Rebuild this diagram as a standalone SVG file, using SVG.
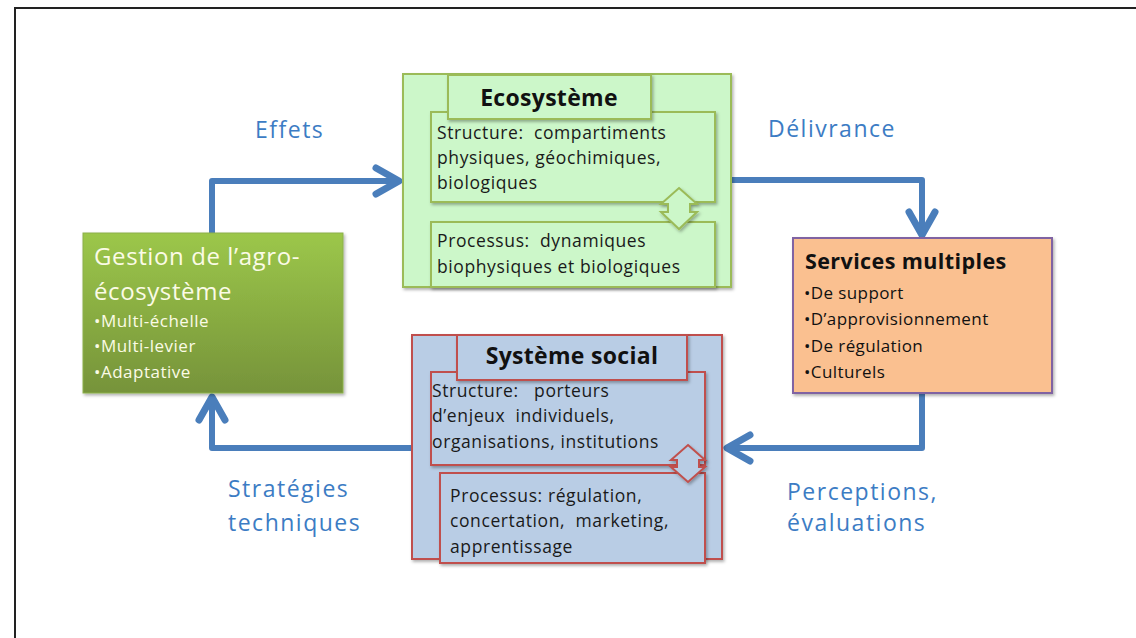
<svg xmlns="http://www.w3.org/2000/svg" width="1136" height="638" viewBox="0 0 1136 638">
<style>
.t{font-family:"Open Sans","DejaVu Sans","Liberation Sans",sans-serif;white-space:pre}
.lbl{fill:#3c7cc4;font-size:23px;letter-spacing:1.5px}
.body{fill:#1a1a1a;font-size:17.5px;letter-spacing:0.6px}
.ttl{fill:#111;font-size:23px;font-weight:bold;letter-spacing:0.3px}
.eco{fill:#ccf7c9;stroke:#9bbb59;stroke-width:2}
.soc{fill:#b9cde5;stroke:#c0504d;stroke-width:2}
.conn{fill:none;stroke:#4a7ebb;stroke-width:6;stroke-linejoin:round}
.head{fill:none;stroke:#4a7ebb;stroke-width:7;stroke-linecap:round;stroke-linejoin:round}
</style>
<defs>
<filter id="sh" x="-10%" y="-10%" width="130%" height="130%">
<feDropShadow dx="1.5" dy="2" stdDeviation="1.5" flood-color="#000" flood-opacity="0.3"/>
</filter>
<linearGradient id="gg" x1="0" y1="0" x2="0" y2="1">
<stop offset="0" stop-color="#9cc74a"/>
<stop offset="1" stop-color="#76933a"/>
</linearGradient>
</defs>
<rect x="0" y="0" width="1136" height="638" fill="#fff"/>
<rect x="15" y="8" width="1140" height="650" fill="none" stroke="#222" stroke-width="2"/>

<g id="connectors">
<path class="conn" d="M212,233 V181 H398"/>
<path class="head" d="M376,168 L399,181 L376,194"/>
<path class="conn" d="M732,180 H922 V234"/>
<path class="head" d="M909,212 L922,235 L935,212"/>
<path class="conn" d="M922,393 V448 H728"/>
<path class="head" d="M750,435 L727,448 L750,461"/>
<path class="conn" d="M412,448 H212 V398"/>
<path class="head" d="M199,420 L212,397 L225,420"/>
</g>

<g id="lbl-effets"><text class="t lbl" x="255" y="138">Effets</text></g>
<g id="lbl-delivrance"><text class="t lbl" x="768" y="137">Délivrance</text></g>
<g id="lbl-perceptions"><text class="t lbl" x="787" y="500">Perceptions,</text><text class="t lbl" x="787" y="531">évaluations</text></g>
<g id="lbl-strategies"><text class="t lbl" x="228" y="497">Stratégies</text><text class="t lbl" x="228" y="531">techniques</text></g>

<g id="ecosysteme">
<rect class="eco" x="403" y="74" width="328" height="213" filter="url(#sh)"/>
<rect class="eco" x="431" y="112" width="284" height="90" filter="url(#sh)"/>
<rect class="eco" x="431" y="222" width="284" height="65" filter="url(#sh)"/>
<rect class="eco" x="448" y="75" width="203" height="44" filter="url(#sh)"/>
<polygon class="eco" points="679,188 697,204 690,204 690,212 697,212 679,229 661,212 668,212 668,204 661,204" filter="url(#sh)"/>
<text class="t ttl" x="549" y="106" text-anchor="middle">Ecosystème</text>
<text class="t body" x="437" y="139">Structure:  compartiments</text>
<text class="t body" x="437" y="164">physiques, géochimiques,</text>
<text class="t body" x="437" y="189">biologiques</text>
<text class="t body" x="437" y="247">Processus:  dynamiques</text>
<text class="t body" x="437" y="273">biophysiques et biologiques</text>
</g>

<g id="systeme-social">
<rect class="soc" x="412" y="335" width="310" height="224" filter="url(#sh)"/>
<rect class="soc" x="431" y="372" width="274" height="93" filter="url(#sh)"/>
<rect class="soc" x="440" y="473" width="265" height="90" filter="url(#sh)"/>
<rect class="soc" x="457" y="335" width="230" height="45" filter="url(#sh)"/>
<polygon class="soc" points="688,445 705,460 699,460 699,467 705,467 688,482 671,467 677,467 677,460 671,460" filter="url(#sh)"/>
<text class="t ttl" x="572" y="364" text-anchor="middle">Système social</text>
<text class="t body" x="432" y="397">Structure:   porteurs</text>
<text class="t body" x="432" y="422">d’enjeux  individuels,</text>
<text class="t body" x="432" y="448">organisations, institutions</text>
<text class="t body" x="450" y="502">Processus: régulation,</text>
<text class="t body" x="450" y="527">concertation,  marketing,</text>
<text class="t body" x="450" y="553">apprentissage</text>
</g>

<g id="gestion">
<rect x="83" y="233" width="260" height="160" fill="url(#gg)" stroke="#8cb04a" stroke-width="1" filter="url(#sh)"/>
<text class="t" x="94" y="265" fill="#fbfbe6" font-size="24" letter-spacing="0.6">Gestion de l’agro-</text>
<text class="t" x="94" y="300" fill="#fbfbe6" font-size="24" letter-spacing="0.6">écosystème</text>
<text class="t" x="94" y="327" fill="#fbfbe6" font-size="17" letter-spacing="0.5">•Multi-échelle</text>
<text class="t" x="94" y="352" fill="#fbfbe6" font-size="17" letter-spacing="0.5">•Multi-levier</text>
<text class="t" x="94" y="378" fill="#fbfbe6" font-size="17" letter-spacing="0.5">•Adaptative</text>
</g>

<g id="services">
<rect x="793" y="238" width="259" height="155" fill="#fac090" stroke="#8064a2" stroke-width="2" filter="url(#sh)"/>
<text class="t" x="805" y="269" fill="#111" font-size="21.5" font-weight="bold" letter-spacing="0.4">Services multiples</text>
<text class="t" x="804" y="299" fill="#111" font-size="17" letter-spacing="0.4">•De support</text>
<text class="t" x="804" y="325" fill="#111" font-size="17" letter-spacing="0.4">•D’approvisionnement</text>
<text class="t" x="804" y="352" fill="#111" font-size="17" letter-spacing="0.4">•De régulation</text>
<text class="t" x="804" y="378" fill="#111" font-size="17" letter-spacing="0.4">•Culturels</text>
</g>
</svg>
